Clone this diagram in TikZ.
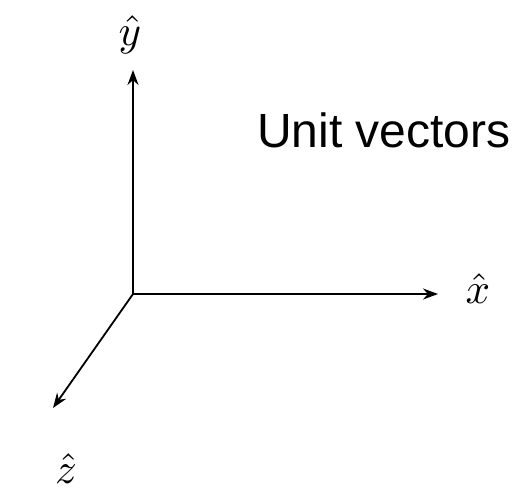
\documentclass[tikz,border=0pt]{standalone}
\usepackage{fontspec}
\newfontfamily\arialfont{Liberation Sans}
\usetikzlibrary{arrows.meta}
\begin{document}
\begin{tikzpicture}[x=1pt,y=-1pt,
  axis/.style={line width=1.8pt,-{Stealth[length=15pt,width=11pt]}},
  lbl/.style={inner sep=0pt}]
\useasboundingbox (0,0) rectangle (530,492);
\coordinate (o) at (133,294);
\coordinate (ye) at (133,70);
\coordinate (xe) at (438,294);
\coordinate (ze) at (53,408);
\draw[axis] (o) -- (ye);
\draw[axis] (o) -- (xe);
\draw[axis] (o) -- (ze);
\node[lbl] (yl) at (130,35) {\scalebox{4.3}{$\hat{y}$}};
\node[lbl] (xl) at (478,289) {\scalebox{4.3}{$\hat{x}$}};
\node[lbl] (zl) at (66,469) {\scalebox{4.3}{$\hat{z}$}};
\node[inner sep=0pt,font=\arialfont\fontsize{48}{56}\selectfont] (t) at (384,130) {Unit vectors};
\end{tikzpicture}
\end{document}
